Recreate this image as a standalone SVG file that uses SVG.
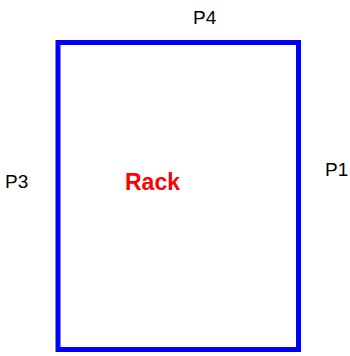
<svg xmlns="http://www.w3.org/2000/svg" width="350" height="356" viewBox="0 0 350 356">
<style>
.edge{stroke:#0000ff;stroke-width:5;fill:none;stroke-linecap:butt}
.lbl{font-family:"Liberation Sans",Arial,sans-serif;font-size:19px;fill:#000}
.rack{font-family:"Liberation Sans",Arial,sans-serif;font-size:23px;font-weight:bold;fill:#ff0000}
</style>
<rect width="350" height="356" fill="#fff"/>
<g id="connectors">
<line class="edge" x1="56" y1="42.5" x2="300" y2="42.5"/>
<line class="edge" x1="58" y1="40" x2="58" y2="352"/>
<line class="edge" x1="56" y1="349.5" x2="300" y2="349.5"/>
<line class="edge" x1="298.5" y1="40" x2="298.5" y2="352"/>
</g>
<g id="rack"><text class="rack" x="125" y="190">Rack</text></g>
<g id="p4"><text class="lbl" x="193" y="24">P4</text></g>
<g id="p3"><text class="lbl" x="5" y="188">P3</text></g>
<g id="p1"><text class="lbl" x="325" y="176">P1</text></g>
</svg>
